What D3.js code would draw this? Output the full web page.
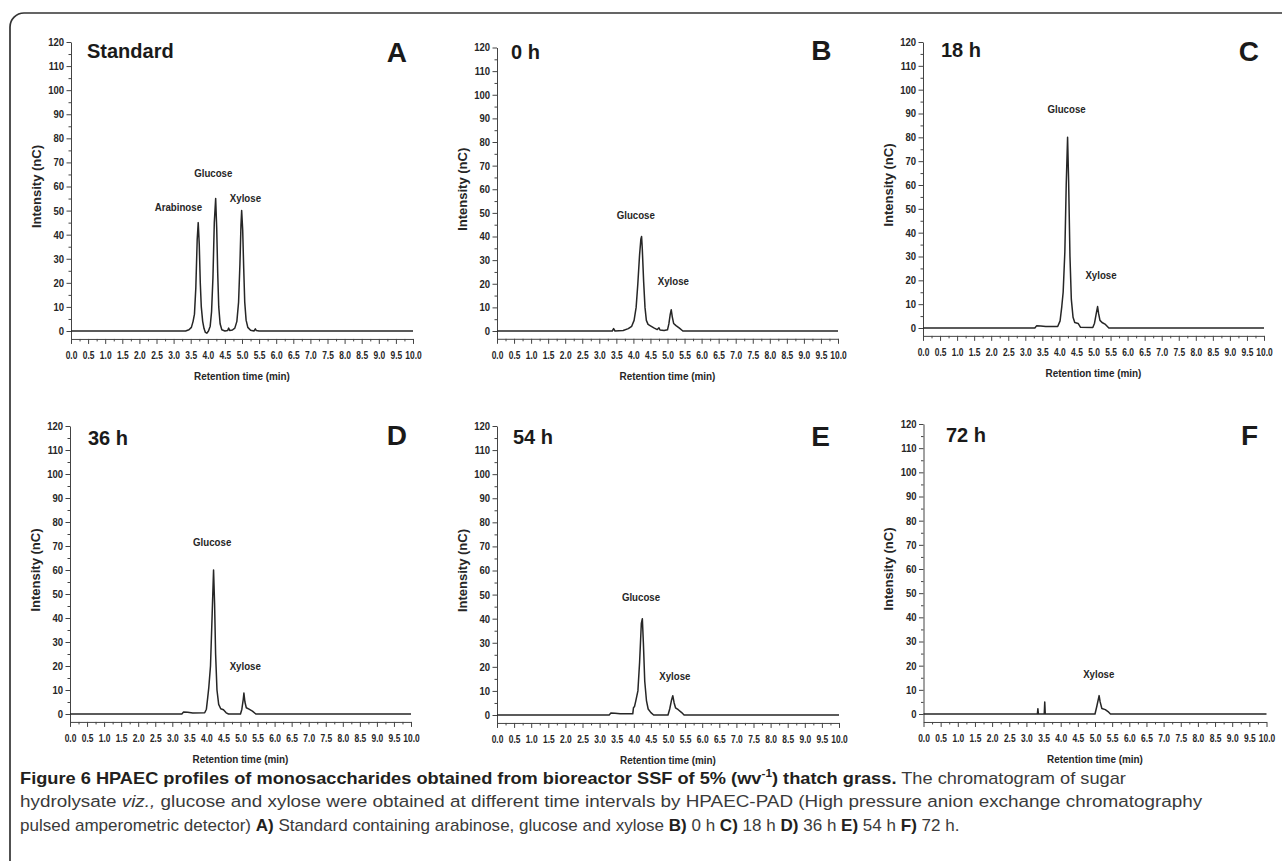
<!DOCTYPE html>
<html><head><meta charset="utf-8">
<script src="https://cdn.jsdelivr.net/npm/d3@7"></script>
<style>body{margin:0;background:#fff}svg{display:block}</style>
</head><body>
<svg id="chart" width="1282" height="861"></svg>
<script>
// ---------- DATA ----------
const xTicks = [0,0.5,1,1.5,2,2.5,3,3.5,4,4.5,5,5.5,6,6.5,7,7.5,8,8.5,9,9.5,10];
const xMinorTicks = [0.25,0.75,1.25,1.75,2.25,2.75,3.25,3.75,4.25,4.75,5.25,5.75,6.25,6.75,7.25,7.75,8.25,8.75,9.25,9.75];
const yTicks = [0,10,20,30,40,50,60,70,80,90,100,110,120];
const yMinorTicks = [5,15,25,35,45,55,65,75,85,95,105,115];
const panelIds = ["A","B","C","D","E","F"];
const panelTitles = ["Standard","0 h","18 h","36 h","54 h","72 h"];
const xAxisTitle = "Retention time (min)";
const yAxisTitle = "Intensity (nC)";

// chromatogram traces: [retention time (min), intensity (nC)]
const traceA = [[0,0],[3.35,0],[3.45,0.5],[3.52,1.5],[3.57,4],[3.61,7],[3.65,18],[3.69,38],[3.72,45],[3.75,36],[3.78,20],[3.81,10],[3.85,4],[3.89,1],[3.93,-0.6],[3.97,-0.9],[4.02,0],[4.07,2],[4.11,8],[4.15,22],[4.19,45],[4.23,55],[4.26,43],[4.29,24],[4.32,10],[4.36,3],[4.41,0.5],[4.5,0],[4.58,0.2],[4.61,1.2],[4.64,0.2],[4.72,0.4],[4.79,1.2],[4.85,4],[4.9,12],[4.94,28],[4.97,44],[4.99,50],[5.02,42],[5.05,26],[5.08,12],[5.12,4.5],[5.17,1.5],[5.25,0.3],[5.35,0],[5.39,0.9],[5.42,0.2],[5.5,0],[10,0]];
const traceB = [[0,0],[3.38,0],[3.42,1],[3.46,0],[3.7,0.2],[3.85,1],[3.95,2],[4.02,4.5],[4.08,10],[4.13,20],[4.18,32],[4.22,39],[4.24,40],[4.26,35],[4.3,21],[4.34,10],[4.38,4.5],[4.43,2.8],[4.5,2.2],[4.6,1.3],[4.7,0.6],[4.75,1.4],[4.78,0.4],[4.9,0.2],[5.0,0.5],[5.04,3],[5.08,7],[5.11,9],[5.14,6],[5.18,3.2],[5.25,2.3],[5.35,1.2],[5.45,0],[10,0]];
const traceC = [[0,0],[3.28,0],[3.33,0.9],[3.45,0.8],[3.6,0.6],[3.95,0.6],[4.02,3],[4.07,9],[4.11,15],[4.16,32],[4.2,60],[4.24,80],[4.27,62],[4.31,30],[4.35,12],[4.4,4.5],[4.45,2.3],[4.55,1.9],[4.62,0.3],[4.98,0.2],[5.03,2],[5.08,6],[5.12,9],[5.15,6],[5.19,3.2],[5.25,2.3],[5.35,1.5],[5.45,0],[10,0]];
const traceD = [[0,0],[3.28,0],[3.33,0.8],[3.45,0.7],[3.6,0.4],[3.95,0.5],[4.0,2],[4.04,7],[4.07,11],[4.12,20],[4.17,42],[4.21,60],[4.24,46],[4.27,25],[4.31,10],[4.36,4],[4.42,2.2],[4.5,1.8],[4.58,0.5],[4.65,0],[5.0,0],[5.04,2],[5.08,6],[5.1,8.7],[5.13,5],[5.17,2.6],[5.25,2],[5.35,1.2],[5.45,0],[10,0]];
const traceE = [[0,0],[3.28,0],[3.33,0.8],[3.45,0.7],[3.6,0.5],[3.97,0.5],[3.99,3],[4.02,3.5],[4.06,6],[4.12,10],[4.17,22],[4.22,38],[4.25,40],[4.28,30],[4.32,14],[4.37,6],[4.42,2.5],[4.5,1],[4.58,0],[5.0,0],[5.05,2.5],[5.1,6],[5.14,8],[5.18,5],[5.22,3],[5.3,2.2],[5.4,1],[5.47,0],[10,0]];
const traceF = [[0,0],[3.32,0],[3.335,2.2],[3.35,0],[3.52,0],[3.535,5],[3.55,0],[5.0,0],[5.05,3],[5.12,7.6],[5.15,5],[5.2,2.3],[5.3,1.8],[5.38,1],[5.45,0],[10,0]];

// peak annotations: [name, retention time, intensity]
const labelsA = [["Arabinose",3.14,51.5],["Glucose",4.16,65.5],["Xylose",5.1,55]];
const labelsB = [["Glucose",4.07,49],["Xylose",5.17,21]];
const labelsC = [["Glucose",4.21,92],["Xylose",5.22,22]];
const labelsD = [["Glucose",4.17,71.4],["Xylose",5.14,20]];
const labelsE = [["Glucose",4.21,49],["Xylose",5.2,16.2]];
const labelsF = [["Xylose",5.11,16.5]];

const traces = [traceA,traceB,traceC,traceD,traceE,traceF];
const peakLabels = [labelsA,labelsB,labelsC,labelsD,labelsE,labelsF];

// ---------- LAYOUT ----------
const layout = [
  {x0:71,   x1:413,   yTop:42,   yZero:331, title:[87,57.5], letter:[407,61.5]},
  {x0:497,  x1:838,   yTop:47.5, yZero:331, title:[511,59],  letter:[831.5,59.5]},
  {x0:923,  x1:1264,  yTop:42,   yZero:328, title:[941,57],  letter:[1259,61]},
  {x0:70,   x1:411,   yTop:426,  yZero:714, title:[88,445],  letter:[407,444.5]},
  {x0:497,  x1:839,   yTop:426,  yZero:715, title:[513,444], letter:[830,446]},
  {x0:923.5,x1:1266.5,yTop:424,  yZero:714, title:[946,442], letter:[1258,444.5]}
];
const FONT = "'Liberation Sans', Arial, Helvetica, sans-serif";
const INK = "#262626";

const svg = d3.select("#chart");
svg.append("rect").attr("width",1282).attr("height",861).attr("fill","#fff");
svg.append("rect").attr("x",10).attr("y",13).attr("width",1300).attr("height",880)
   .attr("rx",14).attr("fill","none").attr("stroke","#333").attr("stroke-width",1.7);

function condense(sel, f){
  sel.each(function(){
    const w = this.getComputedTextLength();
    this.setAttribute("textLength", (w*f).toFixed(2));
    this.setAttribute("lengthAdjust","spacingAndGlyphs");
  });
}

layout.forEach((L,i)=>{
  const g = svg.append("g").attr("font-family",FONT);
  const x = d3.scaleLinear().domain([0,10]).range([L.x0,L.x1]);
  const k = (L.yZero-L.yTop)/120;
  const yMin = -3.3;
  const y = d3.scaleLinear().domain([yMin,120]).range([L.yZero - yMin*k, L.yTop]);
  const bottom = y(yMin);

  const ya = g.append("g").attr("transform",`translate(${L.x0},0)`)
    .call(d3.axisLeft(y).tickValues(yTicks).tickSize(4.5).tickSizeOuter(0).tickPadding(2.5));
  ya.append("g").call(d3.axisLeft(y).tickValues(yMinorTicks).tickSize(2.5).tickSizeOuter(0).tickFormat(""))
    .select(".domain").remove();
  const xa = g.append("g").attr("transform",`translate(0,${bottom})`)
    .call(d3.axisBottom(x).tickValues(xTicks).tickSize(5).tickSizeOuter(0).tickPadding(7.5).tickFormat(d3.format(".1f")));
  xa.append("g").call(d3.axisBottom(x).tickValues(xMinorTicks).tickSize(2.5).tickSizeOuter(0).tickFormat(""))
    .select(".domain").remove();

  [ya,xa].forEach(a=>{
    a.selectAll("path,line").attr("stroke","#444").attr("stroke-width",1);
    a.selectAll("text").attr("fill",INK).attr("font-family",FONT)
      .attr("font-size",10.8).attr("font-weight","bold");
  });
  condense(ya.selectAll(".tick text"),0.88);
  condense(xa.selectAll(".tick text"),0.78);

  const xt = g.append("text").attr("x",(L.x0+L.x1)/2).attr("y",bottom+41)
    .attr("text-anchor","middle").attr("font-size",11.8).attr("font-weight","bold")
    .attr("fill",INK).text(xAxisTitle);
  condense(xt,0.84);
  g.append("text")
    .attr("transform",`translate(${L.x0-35},${(L.yTop+L.yZero)/2}) rotate(-90)`)
    .attr("text-anchor","middle").attr("dy","0.35em")
    .attr("font-size",13).attr("font-weight","bold").attr("fill",INK).text(yAxisTitle);

  const line = d3.line().x(d=>x(d[0])).y(d=>y(d[1]));
  g.append("path").datum(traces[i]).attr("d",line)
    .attr("fill","none").attr("stroke","#262626").attr("stroke-width",1.5)
    .attr("stroke-linejoin","round");

  const pl = g.selectAll(".pk").data(peakLabels[i]).join("text")
    .attr("x",d=>x(d[1])).attr("y",d=>y(d[2])).attr("dy","0.35em")
    .attr("text-anchor","middle").attr("font-size",11).attr("font-weight","bold")
    .attr("fill",INK).text(d=>d[0]);
  condense(pl,0.88);

  g.append("text").attr("x",L.title[0]).attr("y",L.title[1])
    .attr("font-size",20).attr("font-weight","bold").attr("fill","#1a1a1a").text(panelTitles[i]);
  g.append("text").attr("x",L.letter[0]).attr("y",L.letter[1]).attr("text-anchor","end")
    .attr("font-size",28).attr("font-weight","bold").attr("fill","#1a1a1a").text(panelIds[i]);
});

// ---------- CAPTION ----------
const cap = svg.append("g").attr("font-family",FONT).attr("font-size",17);
const BOLD="#231f20", REG="#3a3a3a";
const capTexts = [];
function capLine(yb, len, parts){
  const t = cap.append("text").attr("x",0).attr("y",0);
  parts.forEach(p=>{
    const s = t.append("tspan").text(p.t)
      .attr("fill",p.b?BOLD:REG).attr("font-weight",p.b?"bold":"normal");
    if(p.i) s.attr("font-style","italic");
    if(p.sup) s.attr("font-size",11).attr("dy",-7);
    if(p.down) s.attr("dy",7);
  });
  capTexts.push({t, yb, f: len / t.node().getBBox().width});
}
capLine(784,1118,[
  {t:"Figure 6 HPAEC profiles of monosaccharides obtained from bioreactor SSF of 5% (wv",b:1},
  {t:"-1",b:1,sup:1},
  {t:") thatch grass.",b:1,down:1},
  {t:" The chromatogram of sugar"}
]);
capLine(807,1236,[
  {t:"hydrolysate "},
  {t:"viz.,",i:1},
  {t:" glucose and xylose were obtained at different time intervals by HPAEC-PAD (High pressure anion exchange chromatography"}
]);
capLine(831,884,[
  {t:"pulsed amperometric detector) "},{t:"A)",b:1},
  {t:" Standard containing arabinose, glucose and xylose "},{t:"B)",b:1},
  {t:" 0 h "},{t:"C)",b:1},{t:" 18 h "},{t:"D)",b:1},{t:" 36 h "},
  {t:"E)",b:1},{t:" 54 h "},{t:"F)",b:1},{t:" 72 h."}
]);
const meanF = d3.mean(capTexts, c=>c.f);
capTexts.forEach(c=>{
  const f = (c.f + meanF)/2;
  c.t.attr("transform",`translate(20,${c.yb}) scale(${f},1)`);
});
</script>
</body></html>
